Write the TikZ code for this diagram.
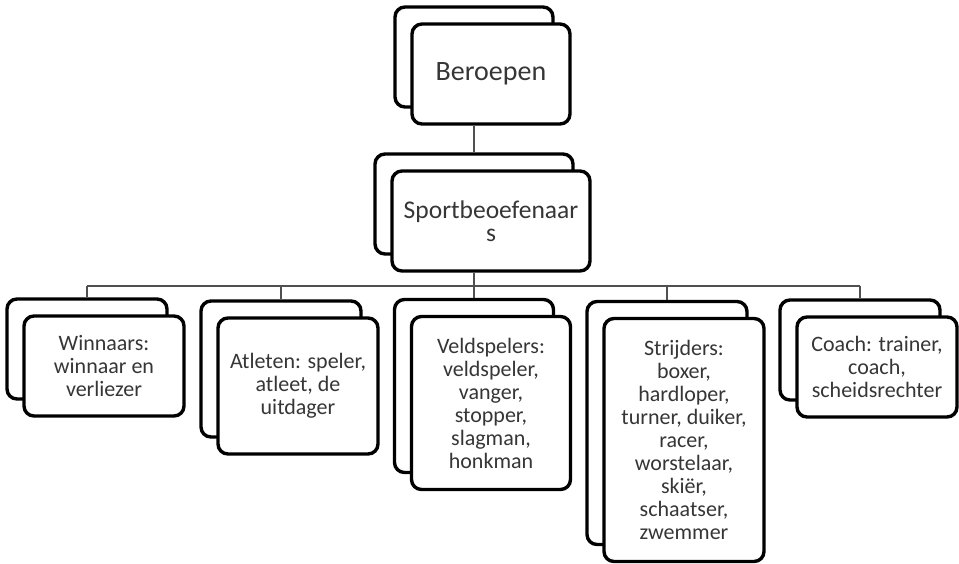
\documentclass[tikz,border=0pt]{standalone}
\usepackage{fontspec}
\setmainfont{Carlito}
\usepackage{tikz}
\usetikzlibrary{positioning}
\definecolor{txt}{HTML}{363636}
\definecolor{wire}{HTML}{505050}
\tikzset{
  x=1pt, y=-1pt,
  card/.style={draw, line width=3.4pt, rounded corners=10pt, fill=white,
    inner sep=0pt, align=center, text=txt},
  size/.style 2 args={minimum width=#1, minimum height=#2},
  front/.style={card, shift={(17,17)}},
  small/.style={font=\fontsize{22}{23}\selectfont},
  link/.style={draw=wire, line width=1.7pt},
}

\begin{document}
\begin{tikzpicture}
		\useasboundingbox (0,0) rectangle (959,563);

		% top
		\node[card, size={158pt}{100pt}] (b-ber) at (474,57) {};
		\node[front, size={158pt}{100pt}, font=\fontsize{28}{30}\selectfont] (ber) at (b-ber) {Beroepen};
		\node[card, size={198pt}{100pt}] (b-sport) at (474,204) {};
		\node[front, size={198pt}{100pt}, font=\fontsize{25.5}{23}\selectfont] (sport) at (b-sport) {Sportbeoefenaar\\s};

		% bottom row
		\node[card, size={160pt}{100pt}] (b-win) at (87,349) {};
		\node[front, small, size={160pt}{100pt}] (win) at (b-win) {Winnaars:\\winnaar en\\verliezer};
		\node[card, size={160pt}{136pt}] (b-atl) at (281,369) {};
		\node[front, small, size={160pt}{136pt}] (atl) at (b-atl) {Atleten: speler,\\atleet, de\\uitdager};
		\node[card, size={159pt}{173pt}] (b-veld) at (474,386) {};
		\node[front, small, size={159pt}{173pt}] (veld) at (b-veld) {Veldspelers:\\veldspeler,\\vanger,\\stopper,\\slagman,\\honkman};
		\node[card, size={160pt}{243pt}] (b-strij) at (667,423) {};
		\node[front, small, size={160pt}{243pt}] (strij) at (b-strij) {Strijders:\\boxer,\\hardloper,\\turner, duiker,\\racer,\\worstelaar,\\skiër,\\schaatser,\\zwemmer};
		\node[card, size={160pt}{100pt}] (b-coach) at (860,350) {};
		\node[front, small, size={160pt}{100pt}] (coach) at (b-coach) {Coach: trainer,\\coach,\\scheidsrechter};

		% connectors
		\coordinate (bus) at (0,286);
		\draw[link] (ber.south -| b-ber) -- (b-sport.north);
		\draw[link] (sport.south -| b-sport) -- (b-sport |- bus);
		\draw[link] (b-win |- bus) -- (b-coach |- bus);
		\foreach \n in {win,atl,veld,strij,coach}
			\draw[link] (b-\n |- bus) -- (b-\n.north);
	\end{tikzpicture}
\end{document}
